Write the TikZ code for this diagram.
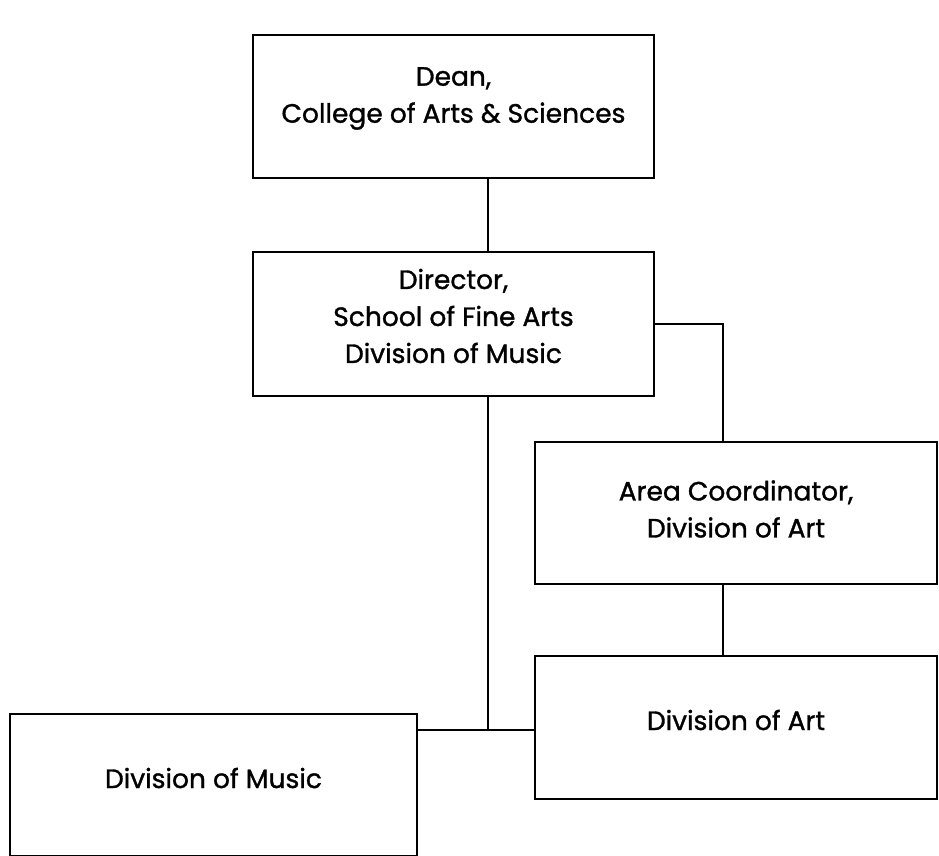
\documentclass[tikz,border=0pt]{standalone}
\usepackage{fontspec}
\setmainfont{Poppins}[RawFeature={embolden=1.2}]
\usetikzlibrary{calc}
\begin{document}
\begin{tikzpicture}[x=1pt,y=-1pt,
  box/.style={draw, line width=1.8pt, rectangle, inner sep=0pt},
  lbl/.style={align=center, inner sep=0pt, font=\fontsize{26.5}{37}\selectfont},
  conn/.style={line width=1.6pt}]
\useasboundingbox (0,0) rectangle (939,856);
% boxes
\node[box, minimum width=401pt, minimum height=143pt] (dean)  at (453.5,106.5) {};
\node[box, minimum width=401pt, minimum height=144pt] (dir)   at (453.5,324) {};
\node[box, minimum width=402pt, minimum height=142pt] (area)  at (736,513) {};
\node[box, minimum width=402pt, minimum height=143pt] (art)   at (736,727.5) {};
\node[box, minimum width=407pt, minimum height=142pt] (music) at (213.5,785) {};
% texts
\node[lbl] (tdean)  at (453.5,98.5) {Dean,\\College of Arts \& Sciences};
\node[lbl] (tdir)   at (453.5,316)  {Director,\\School of Fine Arts\\Division of Music};
\node[lbl] (tarea)  at (736,509)    {Area Coordinator,\\Division of Art};
\node[lbl] (tart)   at (736,720)    {Division of Art};
\node[lbl] (tmusic) at (213.5,778)  {Division of Music};
% connector guides
\coordinate (tx) at (488,0);
\coordinate (ax) at (723,0);
\coordinate (mj) at (0,730);
% connectors
\draw[conn] (dean.south -| tx) -- (dir.north -| tx);
\draw[conn] (dir.east) -- (dir.east -| ax) -- (area.north -| ax);
\draw[conn] (area.south -| ax) -- (art.north -| ax);
\draw[conn] (dir.south -| tx) -- (tx |- mj);
\draw[conn] (music.east |- mj) -- (art.west |- mj);
\end{tikzpicture}
\end{document}
